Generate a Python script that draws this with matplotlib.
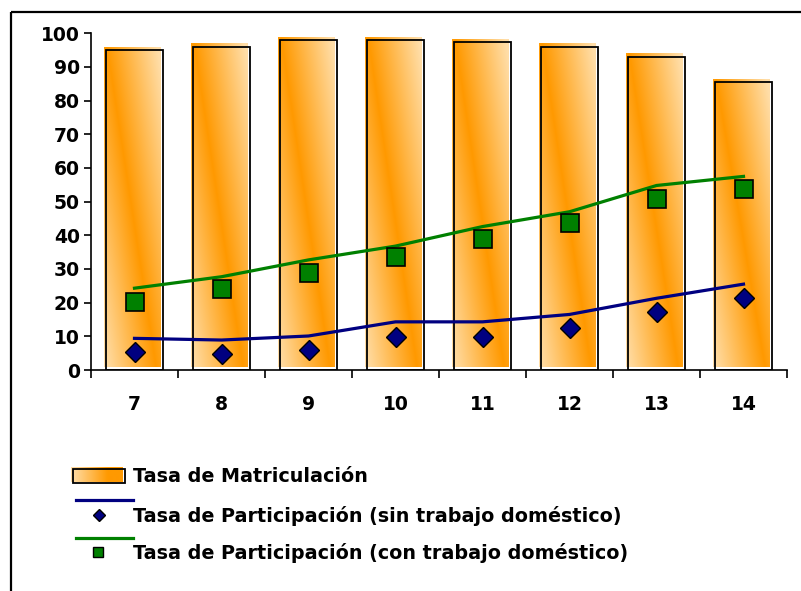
import numpy as np
import matplotlib
matplotlib.use("Agg")
import matplotlib.pyplot as plt
from matplotlib.patches import Rectangle
from matplotlib.lines import Line2D

# data
edades = ["7", "8", "9", "10", "11", "12", "13", "14"]
matriculacion = [95.0, 96.0, 98.0, 98.0, 97.4, 96.0, 93.0, 85.4]
part_sin_linea = [9.4, 8.9, 10.1, 14.3, 14.3, 16.5, 21.3, 25.5]
part_sin_punto = [5.2, 4.7, 5.9, 9.9, 9.9, 12.6, 17.1, 21.3]
part_con_linea = [24.3, 27.7, 32.7, 36.8, 42.6, 47.0, 54.8, 57.5]
part_con_punto = [20.3, 24.0, 28.7, 33.5, 38.8, 43.6, 50.7, 53.7]
etiquetas = ["Tasa de Matriculación",
             "Tasa de Participación (sin trabajo doméstico)",
             "Tasa de Participación (con trabajo doméstico)"]

ORANGE = np.array([1.0, 0.60, 0.0])
LIGHT = np.array([1.0, 0.87, 0.66])
NAVY = "#000080"
GREEN = "#008000"
FONT = "DejaVu Sans"

W, H = 801, 591
fig = plt.figure(figsize=(W / 100, H / 100), dpi=100)
ax = fig.add_axes([91 / W, 1 - 370 / H, (787 - 91) / W, (370 - 33.3) / H])

x = np.arange(len(edades))
bw = 0.645
dx, dy = 0.03, 0.9  # gradient fill sits slightly up-left of the outline


def gradiente(nx=60, ny=200):
    # row 0 = bottom of the bar (drawn with origin="lower")
    u = np.linspace(0, 1, nx)[None, :]
    v = np.linspace(0, 1, ny)[:, None]
    centro = 0.92 - 0.87 * v
    t = np.clip(np.abs(u - centro) / 0.9, 0, 1)[..., None]
    return ORANGE + (LIGHT - ORANGE) * t


img = gradiente()
for xi, h in zip(x, matriculacion):
    ax.imshow(img, extent=(xi - bw / 2 - dx, xi + bw / 2 - dx, dy, h + dy),
              origin="lower", aspect="auto", interpolation="bilinear", zorder=1)
    ax.add_patch(Rectangle((xi - bw / 2, 0), bw, h, fill=False,
                           edgecolor="black", linewidth=1.3, zorder=2))

ax.plot(x, part_sin_linea, color=NAVY, linewidth=2.3, zorder=3)
ax.plot(x, part_con_linea, color=GREEN, linewidth=2.3, zorder=3)
ax.plot(x, part_sin_punto, linestyle="none", marker="D", markersize=10,
        markerfacecolor=NAVY, markeredgecolor="black", markeredgewidth=1.0, zorder=4)
ax.plot(x, part_con_punto, linestyle="none", marker="s", markersize=12.5,
        markerfacecolor=GREEN, markeredgecolor="black", markeredgewidth=1.2, zorder=4)

ax.set_xlim(-0.5, len(edades) - 0.5)
ax.set_ylim(0, 100)
ax.set_yticks(np.arange(0, 101, 10))
ax.set_xticks(x)
ax.set_xticklabels(edades)
ax.set_xticks(np.arange(-0.5, len(edades)), minor=True)
ax.tick_params(axis="x", which="major", length=0, pad=18)
ax.tick_params(axis="x", which="minor", length=6, width=1.2, direction="out")
ax.tick_params(axis="y", length=5, width=1.2, pad=3)
for lab in ax.get_xticklabels() + ax.get_yticklabels():
    lab.set_fontfamily(FONT)
    lab.set_fontweight("bold")
    lab.set_fontsize(13.5)
for s in ["top", "right"]:
    ax.spines[s].set_visible(False)
for s in ["left", "bottom"]:
    ax.spines[s].set_linewidth(1.2)
ax.patch.set_alpha(0)

# legend and outer frame drawn in pixel coordinates
lax = fig.add_axes([0, 0, 1, 1], zorder=-1)
lax.set_xlim(0, W)
lax.set_ylim(H, 0)
lax.axis("off")
lax.add_patch(Rectangle((11, 12), W, H, fill=False, edgecolor="black", linewidth=1.6))

leg_img = np.linspace(0, 1, 30)[None, :, None]
leg_img = LIGHT + (ORANGE - LIGHT) * np.clip(leg_img * 1.4, 0, 1)
lax.imshow(np.repeat(leg_img, 4, axis=0), extent=(71, 123, 482, 467),
           aspect="auto", interpolation="bilinear")
lax.add_patch(Rectangle((73, 469), 52, 14, fill=False, edgecolor="black", linewidth=1.3))
lax.add_line(Line2D([76, 133], [500, 500], color=NAVY, linewidth=2.3))
lax.plot([99], [515], marker="D", markersize=6.5, markerfacecolor=NAVY,
         markeredgecolor="black", markeredgewidth=1.0)
lax.add_line(Line2D([76, 133], [538, 538], color=GREEN, linewidth=2.3))
lax.plot([98], [552], marker="s", markersize=7.5, markerfacecolor=GREEN,
         markeredgecolor="black", markeredgewidth=1.0)
for yy, txt in zip([477, 516, 553], etiquetas):
    lax.text(133, yy, txt, fontfamily=FONT, fontweight="bold", fontsize=13.8,
             va="center", ha="left")

fig.savefig("out.png", dpi=100)
